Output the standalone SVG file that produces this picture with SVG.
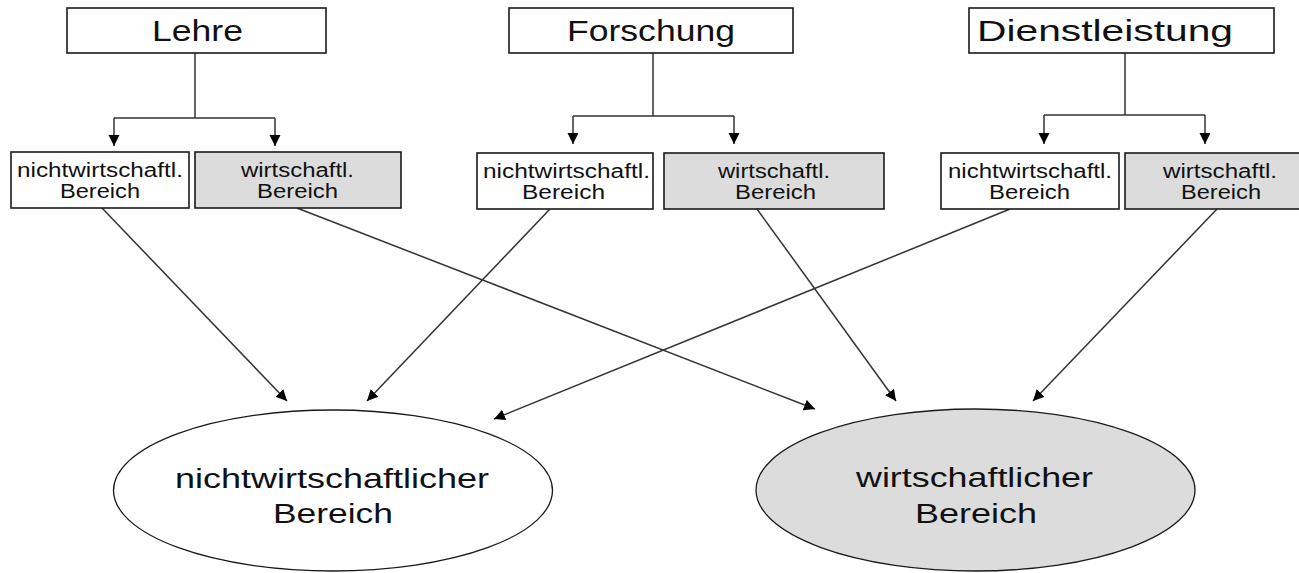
<svg xmlns="http://www.w3.org/2000/svg" width="1299" height="573" viewBox="0 0 1299 573">
<style>
.box{fill:#fff;stroke:#1a1a1a;stroke-width:1.6}
.gbox{fill:#dcdcdc;stroke:#1a1a1a;stroke-width:1.6}
.ell{fill:#fff;stroke:#1a1a1a;stroke-width:1.3}
.gell{fill:#dcdcdc;stroke:#1a1a1a;stroke-width:1.3}
text{font-family:"Liberation Sans",Arial,sans-serif;fill:#111}
.t1{font-size:29.5px}
.t2{font-size:20px}
.t3{font-size:27.5px}
.ln{fill:none;stroke:#333;stroke-width:1.5}
.ar{fill:none;stroke:#333;stroke-width:1.5;marker-end:url(#ah)}
</style>
<defs>
<marker id="ah" markerUnits="userSpaceOnUse" markerWidth="12" markerHeight="12" refX="11" refY="5.5" orient="auto">
<path d="M0,0 L11,5.5 L0,11 z" fill="#000"/>
</marker>
</defs>
<rect width="1299" height="573" fill="#fff"/>
<g id="connectors">
<path class="ln" d="M195,53 V118 M114,118 H275 M653,53 V116 M573,116 H734 M1125,53 V115 M1044,115 H1205"/>
<line class="ar" x1="114" y1="118" x2="114" y2="146"/>
<line class="ar" x1="275" y1="118" x2="275" y2="146"/>
<line class="ar" x1="573" y1="116" x2="573" y2="144"/>
<line class="ar" x1="734" y1="116" x2="734" y2="144"/>
<line class="ar" x1="1044" y1="115" x2="1044" y2="144"/>
<line class="ar" x1="1205" y1="115" x2="1205" y2="144"/>
<line class="ar" x1="102" y1="208" x2="287" y2="401"/>
<line class="ar" x1="550" y1="209" x2="367" y2="401"/>
<line class="ar" x1="1010" y1="209" x2="494" y2="419"/>
<line class="ar" x1="297" y1="208" x2="815" y2="409"/>
<line class="ar" x1="757" y1="209" x2="896" y2="401"/>
<line class="ar" x1="1217" y1="209" x2="1033" y2="401"/>
</g>
<g id="lehre">
<rect class="box" x="67" y="8" width="259" height="45"/>
<text class="t1" x="152" y="41" textLength="91" lengthAdjust="spacingAndGlyphs">Lehre</text>
</g>
<g id="forschung">
<rect class="box" x="509" y="8" width="284" height="45"/>
<text class="t1" x="567" y="41" textLength="168" lengthAdjust="spacingAndGlyphs">Forschung</text>
</g>
<g id="dienstleistung">
<rect class="box" x="969" y="8" width="305" height="45"/>
<text class="t1" x="977" y="41" textLength="256" lengthAdjust="spacingAndGlyphs">Dienstleistung</text>
</g>
<g id="lehre-nw">
<rect class="box" x="11" y="152" width="178" height="56"/>
<text class="t2" x="17" y="177" textLength="166" lengthAdjust="spacingAndGlyphs">nichtwirtschaftl.</text>
<text class="t2" x="60" y="198" textLength="80" lengthAdjust="spacingAndGlyphs">Bereich</text>
</g>
<g id="lehre-w">
<rect class="gbox" x="195" y="152" width="206" height="56"/>
<text class="t2" x="241" y="177" textLength="113" lengthAdjust="spacingAndGlyphs">wirtschaftl.</text>
<text class="t2" x="257" y="198" textLength="81" lengthAdjust="spacingAndGlyphs">Bereich</text>
</g>
<g id="forschung-nw">
<rect class="box" x="477" y="153" width="176" height="56"/>
<text class="t2" x="483" y="178" textLength="167" lengthAdjust="spacingAndGlyphs">nichtwirtschaftl.</text>
<text class="t2" x="522" y="199" textLength="83" lengthAdjust="spacingAndGlyphs">Bereich</text>
</g>
<g id="forschung-w">
<rect class="gbox" x="664" y="153" width="220" height="56"/>
<text class="t2" x="718" y="178" textLength="112" lengthAdjust="spacingAndGlyphs">wirtschaftl.</text>
<text class="t2" x="735" y="199" textLength="81" lengthAdjust="spacingAndGlyphs">Bereich</text>
</g>
<g id="dienst-nw">
<rect class="box" x="941" y="153" width="178" height="56"/>
<text class="t2" x="948" y="178" textLength="164" lengthAdjust="spacingAndGlyphs">nichtwirtschaftl.</text>
<text class="t2" x="989" y="199" textLength="81" lengthAdjust="spacingAndGlyphs">Bereich</text>
</g>
<g id="dienst-w">
<rect class="gbox" x="1125" y="153" width="180" height="56"/>
<text class="t2" x="1163" y="178" textLength="114" lengthAdjust="spacingAndGlyphs">wirtschaftl.</text>
<text class="t2" x="1181" y="199" textLength="80" lengthAdjust="spacingAndGlyphs">Bereich</text>
</g>
<g id="nichtwirtschaftlicher-bereich">
<ellipse class="ell" cx="333" cy="490.5" rx="219.5" ry="80.5"/>
<text class="t3" x="175" y="488" textLength="314" lengthAdjust="spacingAndGlyphs">nichtwirtschaftlicher</text>
<text class="t3" x="273" y="523" textLength="120" lengthAdjust="spacingAndGlyphs">Bereich</text>
</g>
<g id="wirtschaftlicher-bereich">
<ellipse class="gell" cx="975.5" cy="490" rx="219.5" ry="81"/>
<text class="t3" x="856" y="487" textLength="237" lengthAdjust="spacingAndGlyphs">wirtschaftlicher</text>
<text class="t3" x="915" y="523" textLength="122" lengthAdjust="spacingAndGlyphs">Bereich</text>
</g>
</svg>
